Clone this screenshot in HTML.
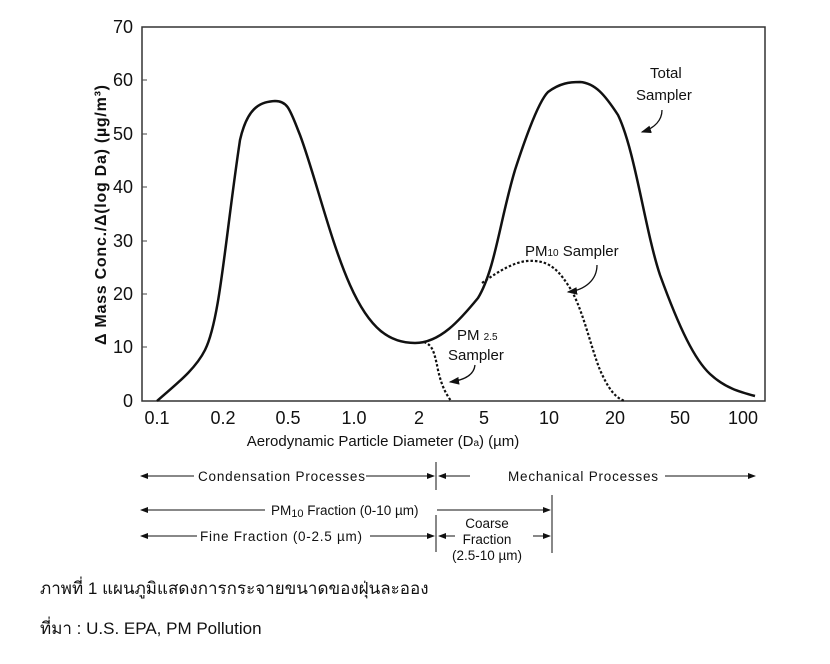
<!DOCTYPE html>
<html><head><meta charset="utf-8"><style>
body{margin:0;background:#fff;width:830px;height:664px;overflow:hidden}
svg{display:block}
.t{font-family:"Liberation Sans",Arial,sans-serif;fill:#111}
.th{font-family:"Liberation Sans","Noto Sans CJK SC",sans-serif;fill:#111}
</style></head><body>
<svg width="830" height="664" viewBox="0 0 830 664">
<defs><marker id="ah" markerWidth="8" markerHeight="6" refX="7" refY="3" orient="auto"><path d="M0,0 L8,3 L0,6z" fill="#111"/></marker></defs>
<rect x="142" y="27" width="623" height="374" fill="none" stroke="#333" stroke-width="1.5"/>
<g class="t" font-size="18" text-anchor="end">
<text x="133" y="33">70</text><text x="133" y="86">60</text><text x="133" y="140">50</text><text x="133" y="193">40</text><text x="133" y="247">30</text><text x="133" y="300">20</text><text x="133" y="353">10</text><text x="133" y="407">0</text>
</g>
<g stroke="#444" stroke-width="1">
<line x1="142" y1="80" x2="147" y2="80"/><line x1="142" y1="134" x2="147" y2="134"/><line x1="142" y1="187" x2="147" y2="187"/><line x1="142" y1="241" x2="147" y2="241"/><line x1="142" y1="294" x2="147" y2="294"/><line x1="142" y1="347" x2="147" y2="347"/>
</g>
<g class="t" font-size="18" text-anchor="middle">
<text x="157" y="424">0.1</text><text x="223" y="424">0.2</text><text x="288" y="424">0.5</text><text x="354" y="424">1.0</text><text x="419" y="424">2</text><text x="484" y="424">5</text><text x="549" y="424">10</text><text x="615" y="424">20</text><text x="680" y="424">50</text><text x="743" y="424">100</text>
</g>
<text class="t" font-size="15" x="383" y="446" text-anchor="middle">Aerodynamic Particle Diameter (D<tspan font-size="10">a</tspan>) (µm)</text>
<text class="t" font-size="16" font-weight="bold" transform="translate(106,215) rotate(-90)" text-anchor="middle" textLength="260">Δ Mass Conc./Δ(log Da) (µg/m³)</text>
<path d="M157,401 C175,385 195,370 205,350 C220,320 225,240 240,140 C248,105 262,102 275,101 C288,101 290,110 300,135 C315,175 330,240 350,285 C370,330 390,343 415,343 C440,343 460,320 478,298 C495,270 500,220 515,170 C528,130 540,100 548,92 C560,83 570,82 580,82 C595,83 605,95 618,115 C635,150 645,230 660,275 C680,330 695,360 710,374 C725,388 740,392 755,396" fill="none" stroke="#111" stroke-width="2.5"/>
<path d="M424,342 C432,345 434,350 438,370 C442,388 447,395 451,401" fill="none" stroke="#111" stroke-width="2.2" stroke-dasharray="2.5,2"/>
<path d="M482,283 C500,270 515,262 527,261 C545,260 555,265 568,285 C582,305 590,345 600,370 C608,388 615,398 625,401" fill="none" stroke="#111" stroke-width="2.2" stroke-dasharray="2.5,2"/>
<g class="t" font-size="15">
<text x="650" y="78">Total</text><text x="636" y="100">Sampler</text>
<text x="525" y="256">PM<tspan font-size="10">10</tspan> Sampler</text>
<text x="457" y="340">PM <tspan font-size="10">2.5</tspan></text><text x="448" y="360">Sampler</text>
</g>
<g fill="none" stroke="#111" stroke-width="1.3" marker-end="url(#ah)">
<path d="M662,110 C662,120 655,128 642,132"/>
<path d="M597,265 C597,280 585,290 568,292"/>
<path d="M475,365 C474,375 465,380 450,382"/>
</g>
<g stroke="#111" stroke-width="1">
<line x1="436" y1="462" x2="436" y2="490"/>
<line x1="552" y1="495" x2="552" y2="553"/>
<line x1="436" y1="515" x2="436" y2="552"/>
<g marker-end="url(#ah)">
<line x1="194" y1="476" x2="141" y2="476"/><line x1="366" y1="476" x2="434" y2="476"/>
<line x1="470" y1="476" x2="439" y2="476"/><line x1="665" y1="476" x2="755" y2="476"/>
<line x1="265" y1="510" x2="141" y2="510"/><line x1="437" y1="510" x2="550" y2="510"/>
<line x1="197" y1="536" x2="141" y2="536"/><line x1="370" y1="536" x2="434" y2="536"/>
<line x1="455" y1="536" x2="439" y2="536"/><line x1="533" y1="536" x2="550" y2="536"/>
</g></g>
<g class="t" font-size="13.5">
<text x="198" y="481" textLength="167">Condensation Processes</text>
<text x="508" y="481" textLength="150">Mechanical Processes</text>
<text x="271" y="515">PM<tspan font-size="11" dy="2">10</tspan><tspan dy="-2"> Fraction (0-10 µm)</tspan></text>
<text x="200" y="541" textLength="162">Fine Fraction (0-2.5 µm)</text>
<text x="487" y="528" text-anchor="middle">Coarse</text>
<text x="487" y="544" text-anchor="middle">Fraction</text>
<text x="487" y="560" text-anchor="middle">(2.5-10 µm)</text>
</g>
<text class="th" font-size="17" x="40" y="594">ภาพที่ 1 แผนภูมิแสดงการกระจายขนาดของฝุ่นละออง</text>
<text class="th" font-size="17" x="40" y="634">ที่มา : U.S. EPA, PM Pollution</text>
</svg>
</body></html>
